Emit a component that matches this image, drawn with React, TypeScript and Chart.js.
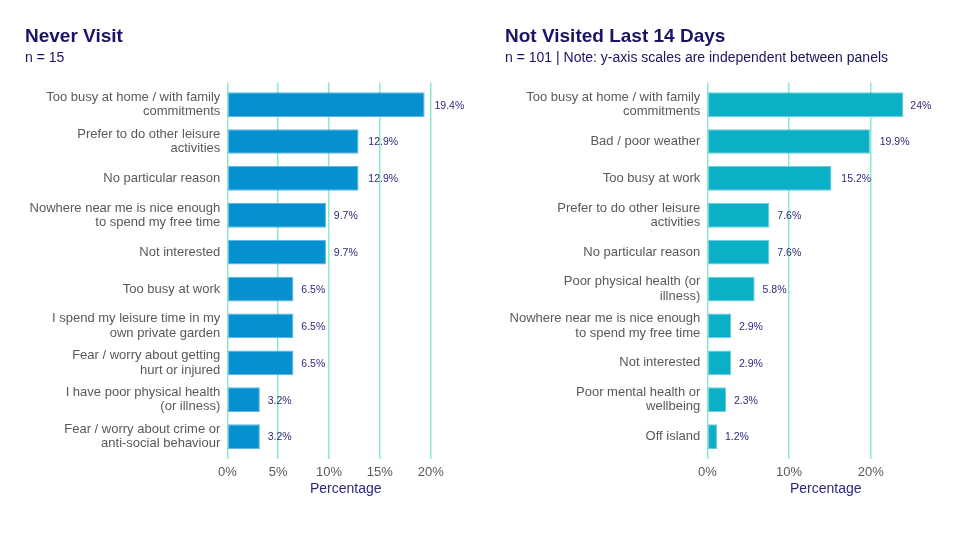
import { useEffect, useRef } from 'react';
import { Chart, registerables } from 'chart.js';

Chart.register(...registerables);

const neverLabels: (string | string[])[] = [
  ['Too busy at home / with family', 'commitments'],
  ['Prefer to do other leisure', 'activities'],
  'No particular reason',
  ['Nowhere near me is nice enough', 'to spend my free time'],
  'Not interested',
  'Too busy at work',
  ['I spend my leisure time in my', 'own private garden'],
  ['Fear / worry about getting', 'hurt or injured'],
  ['I have poor physical health', '(or illness)'],
  ['Fear / worry about crime or', 'anti-social behaviour']
];
const neverValues = [19.4, 12.9, 12.9, 9.7, 9.7, 6.5, 6.5, 6.5, 3.2, 3.2];
const neverTicks = [0, 5, 10, 15, 20];

const notVisitedLabels: (string | string[])[] = [
  ['Too busy at home / with family', 'commitments'],
  'Bad / poor weather',
  'Too busy at work',
  ['Prefer to do other leisure', 'activities'],
  'No particular reason',
  ['Poor physical health (or', 'illness)'],
  ['Nowhere near me is nice enough', 'to spend my free time'],
  'Not interested',
  ['Poor mental health or', 'wellbeing'],
  'Off island'
];
const notVisitedValues = [24, 19.9, 15.2, 7.6, 7.6, 5.8, 2.9, 2.9, 2.3, 1.2];
const notVisitedTicks = [0, 10, 20];

const FONT = '"Liberation Sans", Arial, sans-serif';
const NAVY = '#1b1464';
const LABEL_NAVY = '#2e2a7c';
const GREY = '#595959';
const GRID = '#8fe8c9';

const valueLabels = {
  id: 'valueLabels',
  afterDatasetsDraw(chart: Chart) {
    const { ctx } = chart;
    const meta = chart.getDatasetMeta(0);
    const data = chart.data.datasets[0].data as { x: number; y: number }[];
    ctx.save();
    ctx.font = `10.5px ${FONT}`;
    ctx.fillStyle = LABEL_NAVY;
    ctx.textBaseline = 'middle';
    ctx.textAlign = 'left';
    meta.data.forEach((bar: any, i: number) => {
      const text = `${data[i].x}%`;
      const w = ctx.measureText(text).width;
      ctx.fillText(text, bar.x + w * 0.33, bar.y + 1);
    });
    ctx.restore();
  }
};

interface PanelProps {
  labels: (string | string[])[];
  values: number[];
  ticks: number[];
  max: number;
  color: string;
  edge: string;
  left: number;
}

const Panel: React.FC<PanelProps> = ({ labels, values, ticks, max, color, edge, left }) => {
  const canvas = useRef<HTMLCanvasElement | null>(null);

  useEffect(() => {
    const node = canvas.current;
    if (!node) {
      return;
    }

    const chart = new Chart(node, {
      type: 'bar',
      data: {
        datasets: [
          {
            data: values.map((v, i) => ({ x: v, y: i })),
            backgroundColor: color,
            borderColor: edge,
            borderWidth: 1,
            borderSkipped: false,
            categoryPercentage: 1,
            barPercentage: 0.67
          }
        ]
      },
      options: {
        indexAxis: 'y',
        responsive: false,
        animation: false,
        layout: { padding: { top: 82.5, bottom: 37.3, left: 0, right: 15.7 } },
        plugins: { legend: { display: false }, tooltip: { enabled: false } },
        scales: {
          x: {
            type: 'linear',
            bounds: 'data',
            min: 0,
            max,
            afterBuildTicks: (axis: any) => {
              axis.ticks = ticks.map((v) => ({ value: v }));
            },
            afterFit: (axis: any) => {
              axis.height = 45;
            },
            grid: { color: GRID, lineWidth: 1.5, drawTicks: false },
            border: { display: false },
            ticks: {
              padding: 6,
              color: GREY,
              font: { family: FONT, size: 13 },
              callback: (v: any) => `${v}%`
            },
            title: {
              display: true,
              text: 'Percentage',
              color: LABEL_NAVY,
              font: { family: FONT, size: 14 },
              padding: { top: 0, bottom: 6.3 }
            }
          },
          y: {
            type: 'linear',
            bounds: 'data',
            offset: false,
            reverse: true,
            min: -0.6,
            max: labels.length - 0.4,
            afterBuildTicks: (axis: any) => {
              axis.ticks = labels.map((_, i) => ({ value: i }));
            },
            afterFit: (axis: any) => {
              axis.width = 227.3;
            },
            grid: { display: false, drawTicks: false, offset: false },
            border: { display: false },
            ticks: {
              autoSkip: false,
              padding: 7,
              color: GREY,
              font: { family: FONT, size: 13, lineHeight: 1.1 },
              callback: (v: any) => labels[v as number]
            }
          }
        }
      },
      plugins: [valueLabels]
    });

    return () => {
      chart.destroy();
    };
  }, [labels, values, ticks, max, color, edge]);

  return (
    <canvas
      ref={canvas}
      width={480}
      height={541}
      style={{ position: 'absolute', left, top: 0, width: 480, height: 541 }}
      role="img"
    />
  );
};

const titleStyle: React.CSSProperties = {
  position: 'absolute',
  top: 26.2,
  fontFamily: FONT,
  fontWeight: 'bold',
  fontSize: 19,
  lineHeight: '19px',
  color: NAVY,
  whiteSpace: 'nowrap'
};

const subStyle: React.CSSProperties = {
  position: 'absolute',
  top: 50.4,
  fontFamily: FONT,
  fontSize: 14,
  lineHeight: '14px',
  color: NAVY,
  whiteSpace: 'nowrap'
};

export default function App() {
  return (
    <div style={{ position: 'absolute', left: 0, top: 0, width: 977, height: 541, background: '#fff' }}>
      <Panel
        labels={neverLabels}
        values={neverValues}
        ticks={neverTicks}
        max={23.3}
        color="#0590d0"
        edge="#5cb6e2"
        left={0}
      />
      <Panel
        labels={notVisitedLabels}
        values={notVisitedValues}
        ticks={notVisitedTicks}
        max={29}
        color="#0bb0c6"
        edge="#6acfdc"
        left={480}
      />
      <div style={{ ...titleStyle, left: 25 }}>Never Visit</div>
      <div style={{ ...subStyle, left: 25 }}>n = 15</div>
      <div style={{ ...titleStyle, left: 505 }}>Not Visited Last 14 Days</div>
      <div style={{ ...subStyle, left: 505 }}>n = 101 | Note: y-axis scales are independent between panels</div>
    </div>
  );
}
